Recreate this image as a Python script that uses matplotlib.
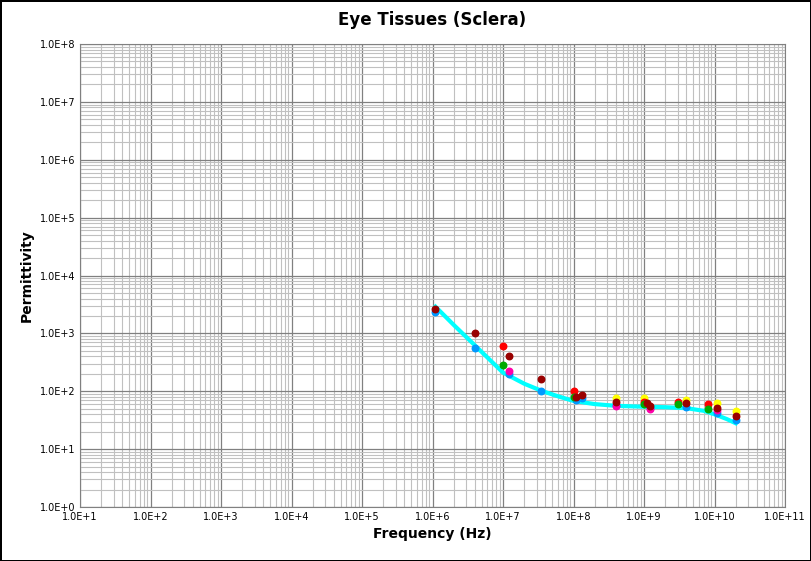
import matplotlib
matplotlib.use("Agg")
import matplotlib.pyplot as plt
from matplotlib.ticker import LogLocator, FixedLocator, NullFormatter
import numpy as np

line_f = [1.1e6, 2e6, 4e6, 7e6, 1e7, 2e7, 3.5e7, 6e7, 1e8, 2e8, 4e8, 1e9, 2e9, 4e9, 7e9, 1e10, 1.5e10, 2e10]
line_p = [2900, 1400, 620, 320, 210, 135, 102, 82, 68, 60, 56, 54, 53, 51, 46, 40, 33, 28]

series = {
    "#0099ff": ([1.1e6, 4e6, 1.2e7, 3.5e7, 1.1e8, 1.3e8, 4e8, 1.2e9, 4e9, 1.1e10, 2e10],
                [2300, 570, 200, 100, 70, 75, 57, 52, 54, 42, 32]),
    "#ff00aa": ([1.2e7, 4e8, 1.2e9, 1.1e10], [220, 55, 50, 48]),
    "#ffff00": ([4e8, 1e9, 4e9, 1.1e10, 2e10], [75, 75, 70, 62, 45]),
    "#ff0000": ([1e7, 1e8, 1e9, 3e9, 8e9], [600, 100, 65, 65, 60]),
    "#00aa00": ([1e7, 1e8, 1e9, 3e9, 8e9], [280, 80, 60, 60, 50]),
    "#990000": ([1.1e6, 4e6, 1.2e7, 3.5e7, 1.1e8, 1.3e8, 4e8, 1.1e9, 1.2e9, 4e9, 1.1e10, 2e10],
                [2600, 1000, 400, 160, 80, 85, 65, 62, 55, 63, 52, 38]),
}

fig = plt.figure(figsize=(8.11, 5.61), dpi=100)
fig.patch.set_edgecolor("black"); fig.patch.set_linewidth(2)
ax = fig.add_axes([80/811, 54/561, 705/811, 463/561])
ax.set_xscale("log"); ax.set_yscale("log")
ax.set_xlim(1e1, 1e11); ax.set_ylim(1e0, 1e8)
ax.xaxis.set_major_locator(LogLocator(base=10, numticks=20))
ax.yaxis.set_major_locator(LogLocator(base=10, numticks=20))
ax.xaxis.set_minor_locator(LogLocator(base=10, subs=np.arange(2, 10), numticks=20))
ax.yaxis.set_minor_locator(LogLocator(base=10, subs=np.arange(2, 10), numticks=20))
ax.xaxis.set_minor_formatter(NullFormatter()); ax.yaxis.set_minor_formatter(NullFormatter())
fmt = lambda v, p: "1.0E+%d" % round(np.log10(v))
ax.xaxis.set_major_formatter(plt.FuncFormatter(fmt))
ax.yaxis.set_major_formatter(plt.FuncFormatter(fmt))
ax.grid(True, which="minor", color="#c0c0c0", lw=0.8)
ax.grid(True, which="major", color="#808080", lw=0.9)
ax.set_axisbelow(True)
ax.tick_params(labelsize=7, which="both", length=0)
for s in ax.spines.values():
    s.set_color("#808080")
ax.plot(line_f, line_p, color="#00ffff", lw=3, zorder=2)
for c, (f, p) in series.items():
    ax.scatter(f, p, color=c, s=22, zorder=3)
ax.set_title("Eye Tissues (Sclera)", fontsize=12, fontweight="bold", pad=14)
ax.set_xlabel("Frequency (Hz)", fontsize=10, fontweight="bold")
ax.set_ylabel("Permittivity", fontsize=10, fontweight="bold")
fig.savefig("out.png", dpi=100, edgecolor=fig.get_edgecolor())
